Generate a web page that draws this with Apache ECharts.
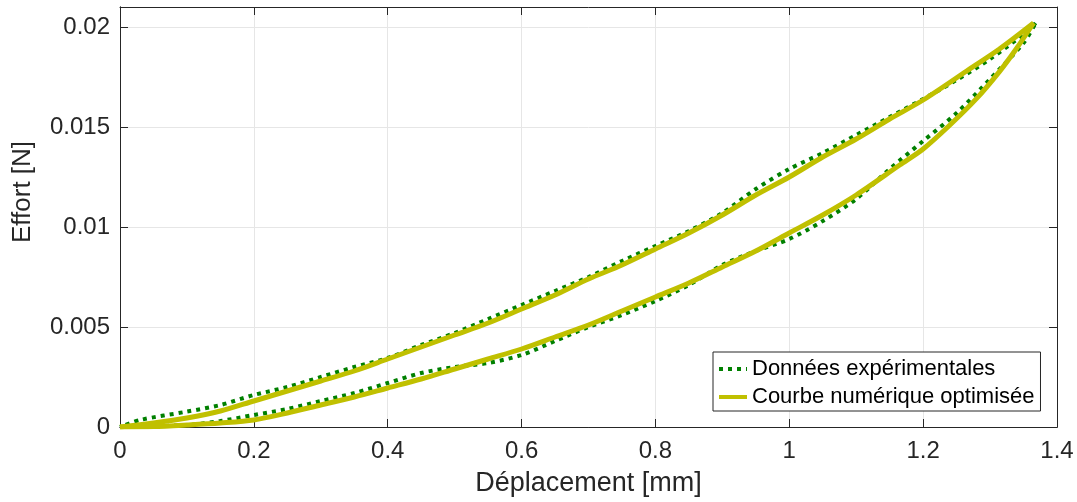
<!DOCTYPE html>
<html>
<head>
<meta charset="utf-8">
<title>Effort - déplacement</title>
<script src="https://cdn.jsdelivr.net/npm/echarts@6/dist/echarts.min.js"></script>
<style>
  html, body { margin: 0; padding: 0; background: #fff; }
  #chart { width: 1077px; height: 502px; }
</style>
</head>
<body>
<div id="chart"></div>
<script>
// données expérimentales [déplacement mm, effort N]
var expLower = [
  [0, 0], [0.1, 0.0001], [0.15, 0.0003], [0.2, 0.0006], [0.25, 0.0009], [0.3, 0.0013],
  [0.35, 0.0017], [0.4, 0.0022], [0.45, 0.0027], [0.5, 0.0030], [0.55, 0.0032],
  [0.6, 0.0036], [0.65, 0.0043], [0.7, 0.0050], [0.75, 0.0056], [0.8, 0.0063],
  [0.85, 0.0071], [0.9, 0.0081], [0.95, 0.0088], [1.0, 0.0094], [1.05, 0.0103],
  [1.1, 0.0114], [1.15, 0.0129], [1.2, 0.0143], [1.25, 0.0157], [1.3, 0.0174],
  [1.35, 0.0192], [1.368, 0.0202]
];
var expUpper = [
  [1.368, 0.0202], [1.36, 0.0199], [1.3, 0.0184], [1.25, 0.01735], [1.2, 0.0164],
  [1.15, 0.0155], [1.1, 0.0146], [1.05, 0.0137], [1.0, 0.0129], [0.95, 0.0119],
  [0.9, 0.0107], [0.85, 0.0098], [0.8, 0.00905], [0.75, 0.0083], [0.7, 0.0075],
  [0.65, 0.0068], [0.6, 0.0061], [0.55, 0.0054], [0.5, 0.0047], [0.45, 0.0041],
  [0.4, 0.00345], [0.35, 0.0030], [0.3, 0.0025], [0.25, 0.0020], [0.2, 0.0016],
  [0.15, 0.0011], [0.1, 0.00077], [0.03, 0.00035], [0, 0]
];
// courbe numérique optimisée
var numLower = [
  [0, 0], [0.05, 0.00002], [0.1, 0.0001], [0.15, 0.0002], [0.2, 0.00035], [0.25, 0.0007],
  [0.3, 0.0011], [0.35, 0.0015], [0.4, 0.00195], [0.45, 0.0024], [0.5, 0.0029],
  [0.55, 0.0034], [0.6, 0.0039], [0.65, 0.0045], [0.7, 0.0051], [0.75, 0.0058],
  [0.8, 0.0065], [0.85, 0.0072], [0.9, 0.0080], [0.95, 0.0088], [1.0, 0.0097],
  [1.05, 0.0106], [1.1, 0.0116], [1.165, 0.0131], [1.2, 0.0139], [1.24, 0.0151],
  [1.28, 0.01643], [1.314, 0.01777], [1.339, 0.0189], [1.365, 0.0202]
];
var numUpper = [
  [1.365, 0.0202], [1.314, 0.0189], [1.265, 0.0178], [1.2, 0.01635], [1.15, 0.0154],
  [1.1, 0.0144], [1.05, 0.0135], [1.0, 0.0125], [0.95, 0.0116], [0.9, 0.0106],
  [0.85, 0.0097], [0.8, 0.0089], [0.75, 0.0081], [0.7, 0.0074], [0.65, 0.0066],
  [0.6, 0.0059], [0.55, 0.0052], [0.5, 0.0046], [0.45, 0.0040], [0.4, 0.0034],
  [0.35, 0.0028], [0.3, 0.0023], [0.25, 0.0018], [0.2, 0.0013], [0.15, 0.0008],
  [0.1, 0.00045], [0.05, 0.0002], [0, 0]
];

var font = "'Liberation Sans', Arial, Helvetica, sans-serif";
var axisColor = '#262626';
var gridColor = '#e6e6e6';

var chart = echarts.init(document.getElementById('chart'));

function lineSeries(name, data, color, width, type, z) {
  return {
    name: name,
    type: 'line',
    data: data,
    symbol: 'none',
    smooth: 0.3,
    z: z,
    xAxisIndex: 0,
    yAxisIndex: 0,
    lineStyle: { color: color, width: width, type: type, cap: 'butt' },
    itemStyle: { color: color }
  };
}

// axes sans libellés : cadre + graduations intérieures
function boxAxis(extra) {
  return Object.assign({
    type: 'value',
    axisLine: { show: true, onZero: false, lineStyle: { color: axisColor, width: 1 } },
    axisTick: { show: true, inside: true, length: 8, lineStyle: { color: axisColor } },
    axisLabel: { show: false },
    splitLine: { show: false }
  }, extra);
}

chart.setOption({
  animation: false,
  backgroundColor: '#fff',
  textStyle: { fontFamily: font },
  grid: { left: 120, right: 20, top: 7, bottom: 75, containLabel: false },
  legend: {
    orient: 'vertical',
    left: 713,
    top: 352,
    backgroundColor: '#fff',
    borderColor: axisColor,
    borderWidth: 1,
    padding: [6, 6, 3, 4],
    itemWidth: 28,
    itemHeight: 12,
    itemGap: 6,
    itemStyle: { opacity: 0 },
    lineStyle: { width: 4 },
    textStyle: { fontSize: 22, color: '#000', fontFamily: font },
    data: ['Données expérimentales', 'Courbe numérique optimisée']
  },
  xAxis: [
    {
      type: 'value',
      min: 0, max: 1.4, interval: 0.2,
      name: 'Déplacement [mm]',
      nameLocation: 'middle',
      nameGap: 43,
      nameTextStyle: { fontSize: 27, color: axisColor, fontFamily: font },
      axisLine: { show: true, onZero: false, lineStyle: { color: axisColor, width: 1 } },
      axisTick: { show: false },
      axisLabel: { fontSize: 24, color: axisColor, margin: 12, fontFamily: font },
      splitLine: { show: true, lineStyle: { color: gridColor, width: 1 } }
    },
    boxAxis({ position: 'top', min: 0, max: 1.4, interval: 0.2 }),
    boxAxis({ position: 'bottom', min: 0, max: 1.4, interval: 0.2 })
  ],
  yAxis: [
    {
      type: 'value',
      min: 0, max: 0.021, interval: 0.005,
      name: 'Effort [N]',
      nameLocation: 'middle',
      nameRotate: 90,
      nameGap: 84,
      nameTextStyle: { fontSize: 26, color: axisColor, fontFamily: font, padding: [0, 0, 0, 50] },
      axisLine: { show: true, onZero: false, lineStyle: { color: axisColor, width: 1 } },
      axisTick: { show: false },
      axisLabel: {
        fontSize: 24, color: axisColor, margin: 10, fontFamily: font,
        showMaxLabel: false
      },
      splitLine: { show: true, lineStyle: { color: gridColor, width: 1 } }
    },
    boxAxis({ position: 'right', min: 0, max: 0.021, interval: 0.005 }),
    boxAxis({ position: 'left', min: 0, max: 0.021, interval: 0.005 })
  ],
  series: [
    lineSeries('Données expérimentales', expLower, '#008000', 4, [4, 5], 2),
    lineSeries('Données expérimentales', expUpper, '#008000', 4, [4, 5], 2),
    lineSeries('Courbe numérique optimisée', numLower, '#c0c000', 5, 'solid', 3),
    lineSeries('Courbe numérique optimisée', numUpper, '#c0c000', 5, 'solid', 3)
  ]
});
</script>
</body>
</html>
